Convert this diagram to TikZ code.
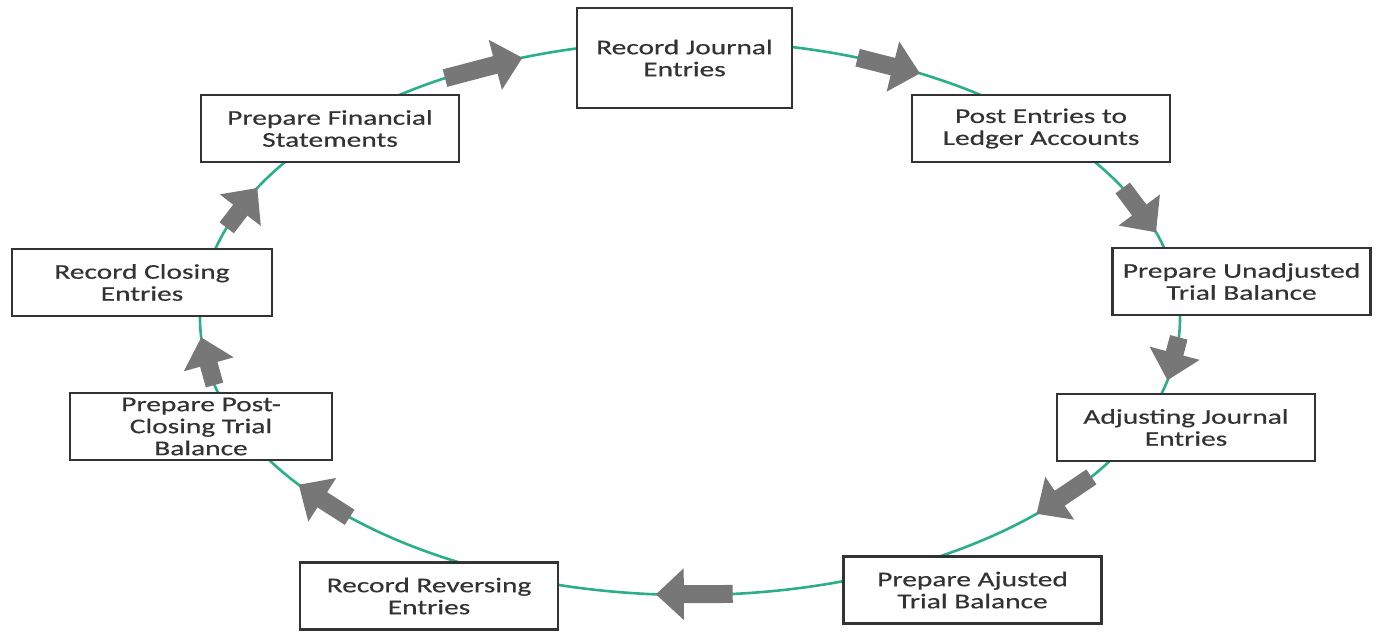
\documentclass[tikz,border=0pt]{standalone}
\usepackage{fontspec}
\usepackage{xcolor}
\usepackage{tikz}
\usetikzlibrary{positioning, arrows.meta, calc}
\newfontfamily\cyclefont[FakeStretch=1.4,FakeBold=0.4]{Carlito}
\definecolor{ringGreen}{HTML}{2BAF8A}
\definecolor{stepGray}{HTML}{777777}
\definecolor{inkDark}{HTML}{333333}

\begin{document}
\begin{tikzpicture}[x=0.5pt, y=-0.5pt, every node/.style={align=center}]
    \tikzset{stepbox/.style={draw=inkDark,line width=1.1pt,fill=white,text=inkDark,minimum width=129pt,minimum height=33.5pt,inner sep=0pt,font=\cyclefont\fontsize{10.5pt}{11pt}\selectfont}, ring/.style={draw=ringGreen,line width=1.3pt}, bigarrow/.style={draw=stepGray,line width=9pt,-{Triangle[length=14pt,width=25pt]}}}
    \useasboundingbox (0,0) rectangle (1379,633);
    \coordinate (o) at (690,318);
    \draw[ring] (o) ellipse [x radius=245pt, y radius=138.5pt];
    \node[stepbox,minimum width=107.5pt,minimum height=50pt] (rje) at (684.5,58) {Record Journal\\Entries};
    \node[stepbox] (pel) at (1041,128.5) {Post Entries to\\Ledger Accounts};
    \node[stepbox] (put) at (1241.5,281.5) {Prepare Unadjusted\\Trial Balance};
    \node[stepbox] (aje) at (1186,427.5) {Adjusting Journal\\Entries};
    \node[stepbox] (pat) at (972.5,590) {Prepare Ajusted\\Trial Balance};
    \node[stepbox] (rre) at (429,596) {Record Reversing\\Entries};
    \node[stepbox,minimum width=131pt] (ppc) at (201,426.5) {Prepare Post-\\Closing Trial\\Balance};
    \node[stepbox,minimum width=130pt] (rce) at (142,282.5) {Record Closing\\Entries};
    \node[stepbox] (pfs) at (330,128.5) {Prepare Financial\\Statements};
    \foreach \n/\a/\b in {1/120/110, 2/70/62, 3/28/18, 4/-4/-13, 5/-35/-45, 6/-85/-94, 7/-134/-143, 8/-166/-176, 9/161/152} {
      \coordinate (s\n) at ($(o)+(\a:245pt and 138.5pt)$);
      \coordinate (t\n) at ($(o)+(\b:245pt and 138.5pt)$);
      \draw[bigarrow] (s\n) -- (t\n);
    }
\end{tikzpicture}
\end{document}
